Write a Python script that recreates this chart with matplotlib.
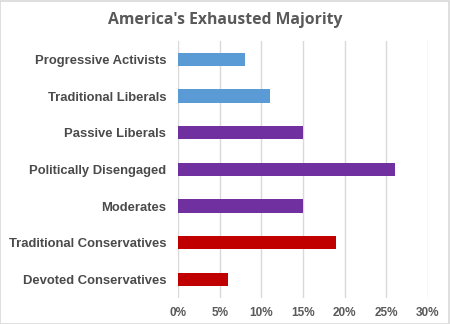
import matplotlib
matplotlib.use("Agg")
import matplotlib.pyplot as plt
from matplotlib.patches import Rectangle

categories = ["Progressive Activists", "Traditional Liberals", "Passive Liberals",
              "Politically Disengaged", "Moderates", "Traditional Conservatives",
              "Devoted Conservatives"]
values = [8, 11, 15, 26, 15, 19, 6]
colors = ["#5B9BD5", "#5B9BD5", "#7030A0", "#7030A0", "#7030A0", "#C00000", "#C00000"]
xticks = [0, 5, 10, 15, 20, 25, 30]
xtick_labels = ["0%", "5%", "10%", "15%", "20%", "25%", "30%"]
title = "America's Exhausted Majority"

fig = plt.figure(figsize=(4.5, 3.24), dpi=100)
fig.patch.set_facecolor("white")
fig.add_artist(Rectangle((0.001, 0.001), 0.997, 0.996, transform=fig.transFigure,
                         fill=False, edgecolor="#D9D9D9", linewidth=1.2))

ax = fig.add_axes([178/450, 1 - 297.7/324, 250/450, (297.7 - 41)/324])
y = list(range(len(categories)))
ax.barh(y, values, height=0.36, color=colors, zorder=3)
ax.set_ylim(len(categories) - 0.5, -0.5)
ax.set_xlim(0, 30)
ax.set_xticks(xticks)
ax.set_xticklabels(xtick_labels, fontfamily="Liberation Sans", fontweight="bold",
                   fontsize=8.5, color="#595959")
ax.set_yticks(y)
ax.set_yticklabels(categories, fontfamily="Liberation Sans", fontweight="bold",
                   fontsize=9.4, color="#4A4A4A")
ax.tick_params(axis="both", length=0)
ax.tick_params(axis="y", pad=8.6)
ax.tick_params(axis="x", pad=7)
ax.grid(axis="x", color="#D9D9D9", linewidth=1, zorder=0)
for s in ax.spines.values():
    s.set_visible(False)

fig.text(225/450, 1 - 20/324, title, ha="center", va="center",
         fontfamily="Open Sans", fontweight="bold", fontsize=11.3, color="#595959")

fig.savefig("out.png", dpi=100)
